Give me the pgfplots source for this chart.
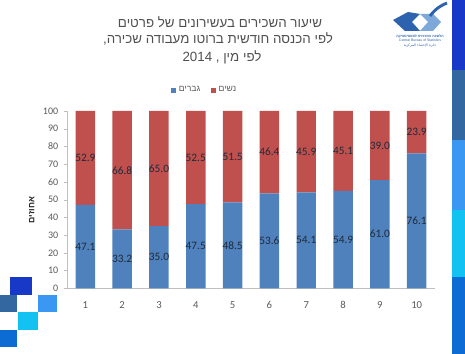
\documentclass[border=0pt]{standalone}
\usepackage{pgfplots}
\pgfplotsset{compat=1.18}
\usepackage{pgfplotstable}
\usepackage{fontspec}
\setmainfont{Liberation Sans}
\newfontfamily\heb[Script=Hebrew]{Liberation Sans}
\newfontfamily\calfont{Carlito}
\newfontfamily\arabicfont[Script=Arabic]{DejaVu Sans}
\TeXXeTstate=1
\definecolor{bluebar}{HTML}{4F81BD}
\definecolor{redbar}{HTML}{C0504D}
\definecolor{axisgray}{HTML}{BFBFBF}
\definecolor{tickgray}{HTML}{595959}
\definecolor{titlegray}{HTML}{505050}
\definecolor{labelc}{HTML}{1F2A3A}
\definecolor{sA}{HTML}{1838C8}
\definecolor{sB}{HTML}{33679F}
\definecolor{sC}{HTML}{3A98F2}
\definecolor{sD}{HTML}{12C2F0}
\definecolor{sE}{HTML}{0C6CD4}
\definecolor{logoA}{HTML}{2C62AE}
\definecolor{logoB}{HTML}{7FA8DA}
\pgfplotstableread{
x m f
1 47.1 52.9
2 33.2 66.8
3 35.0 65.0
4 47.5 52.5
5 48.5 51.5
6 53.6 46.4
7 54.1 45.9
8 54.9 45.1
9 61.0 39.0
10 76.1 23.9
}\data
\begin{document}
\begin{tikzpicture}[x=0.75pt,y=0.75pt]
\useasboundingbox (0,0) rectangle (465,354);
% right stripe
\fill[sA] (452,284) rectangle (465,354);
\fill[sB] (452,214) rectangle (465,284);
\fill[sC] (452,144) rectangle (465,214);
\fill[sD] (452,77) rectangle (465,144);
\fill[sE] (452,0) rectangle (465,77);
% bottom-left squares
\fill[sA] (10,59) rectangle (32,77);
\fill[sB] (0,42) rectangle (17,59);
\fill[sC] (38,42) rectangle (57,59);
\fill[sD] (18,24) rectangle (38,42);
\fill[sE] (0,7) rectangle (17,24);
% logo
\fill[logoA] (393,334) -- (408,342) -- (420,340) -- (412,332) -- (420,323) -- (405,323) -- cycle;
\fill[logoB] (420,340) -- (433,340) -- (441,332) -- (433,323) -- (420,323) -- (428,332) -- cycle;
\draw[logoA, line width=2.2pt] (430,338) .. controls (436,346) and (442,349) .. (447,351);
\node[font=\heb\bfseries\fontsize{2.6}{3}\selectfont, text=logoA, inner sep=0] at (420,318) {\beginR הלשכה המרכזית לסטטיסטיקה\endR};
\node[font=\fontsize{2.6}{3}\selectfont, text=logoA, inner sep=0] at (420,313.5) {Central Bureau of Statistics};
\node[font=\arabicfont\fontsize{2.6}{3}\selectfont, text=logoA, inner sep=0] at (420,308.5) {\beginR دائرة الإحصاء المركزية\endR};
% title
\node[font=\heb\fontsize{10}{11}\selectfont, text=titlegray] at (220,332) {\beginR שיעור השכירים בעשירונים של פרטים\endR};
\node[font=\heb\fontsize{10}{11}\selectfont, text=titlegray] at (218,315) {\beginR לפי הכנסה חודשית ברוטו מעבודה שכירה,\endR};
\node[font=\heb\fontsize{10}{11}\selectfont, text=titlegray] at (222,297) {\beginR לפי מין , 2014\endR};
% y label
\node[rotate=90, font=\heb\bfseries\fontsize{6.5}{7}\selectfont, text=black!85] at (31.7,144) {\beginR אחוזים\endR};
\begin{axis}[
  at={(50.18pt,49.28pt)}, anchor=south west,
  scale only axis, width=276.15pt, height=132.98pt,
  xmin=0.5, xmax=10.5, ymin=0, ymax=100,
  ybar stacked, bar width=14.6pt,
  axis x line=bottom, axis y line=left,
  axis line style={draw=axisgray, line width=0.6pt, -},
  xtick={1,...,10}, ytick={0,10,...,100},
  xtick style={draw=none},
  ytick style={draw=axisgray},
  tick align=outside, major tick length=2.5pt,
  /pgf/number format/assume math mode=true,
  xticklabel style={font=\calfont\fontsize{8}{9}\selectfont, text=tickgray, yshift=-4pt},
  yticklabel style={font=\calfont\fontsize{7.5}{9}\selectfont, text=tickgray, xshift=-0.5pt},
  legend style={at={(0.375,1.118)}, anchor=center, draw=none, fill=none,
    font=\heb\fontsize{6.5}{7}\selectfont, text=tickgray,
    legend columns=-1, /tikz/every even column/.append style={column sep=6pt},
    /tikz/every odd column/.append style={column sep=0pt}},
  legend image code/.code={\fill[#1] (0pt,-1.9pt) rectangle (3.8pt,1.9pt);},
  clip=false,
]
\addplot[fill=bluebar, draw=none] table[x=x, y=m] {\data};
\addlegendentry{\beginR גברים\endR}
\addplot[fill=redbar, draw=none] table[x=x, y=f] {\data};
\addlegendentry{\beginR נשים\endR}
\end{axis}
\begin{axis}[
  at={(50.18pt,49.28pt)}, anchor=south west,
  scale only axis, width=276.15pt, height=132.98pt,
  xmin=0.5, xmax=10.5, ymin=0, ymax=100,
  hide axis, clip=false,
]
\addplot[only marks, mark=none, nodes near coords, point meta=explicit symbolic,
  nodes near coords style={anchor=center, font=\calfont\fontsize{8.5}{9}\selectfont, text=labelc}]
  table[x=x, y expr=\thisrow{m}/2, meta=m] {\data};
\addplot[only marks, mark=none, nodes near coords, point meta=explicit symbolic,
  nodes near coords style={anchor=center, font=\calfont\fontsize{8.5}{9}\selectfont, text=labelc}]
  table[x=x, y expr=\thisrow{m}+\thisrow{f}/2, meta=f] {\data};
\end{axis}
\end{tikzpicture}
\end{document}
